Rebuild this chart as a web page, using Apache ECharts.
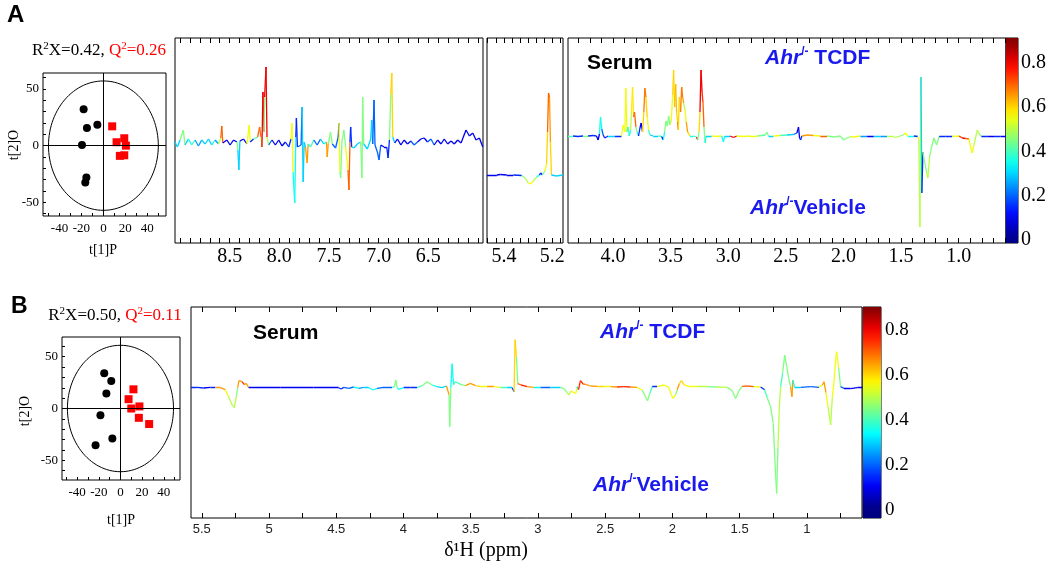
<!DOCTYPE html>
<html><head><meta charset="utf-8">
<script src="https://cdn.jsdelivr.net/npm/echarts@6/dist/echarts.min.js"></script>
<style>html,body{margin:0;padding:0;background:#fff}#c{width:1050px;height:565px}</style>
</head><body><div id="c"></div>
<script>
// ---------------- DATA ----------------
// OPLS-DA scores [t1P, t2O]
const scoreA_vehicle = [[-18,32],[-15,15.5],[-5.5,18.5],[-19.5,0.5],[-15.5,-28],[-16.5,-32.5]];
const scoreA_tcdf    = [[8,17],[12,3],[19,6.5],[20.5,0],[15,-9],[19,-8.5]];
const scoreB_vehicle = [[-15,34],[-8.5,26.5],[-13,14.5],[-18.5,-6.5],[-7.5,-29],[-23,-35.5]];
const scoreB_tcdf    = [[12,18.5],[7.5,9],[10,0],[17.5,2],[17,-9],[26.5,-15]];
// Hotelling ellipse [cx, cy, rx, ry]
const ellipseA = [0,0,50,57];
const ellipseB = [0,0,49,61];
// Loadings spectra [ppm, covariance (scaled), |r|]
const specA1 = [
[9.050,0.00,0.3],[9.026,-0.05,0.3],[8.999,0.02,0.2],[8.966,0.12,0.45],[8.949,-0.03,0.3],[8.915,0.03,0.35],
[8.882,-0.03,0.4],[8.848,0.02,0.3],[8.814,-0.04,0.25],[8.781,0.02,0.3],[8.747,-0.02,0.45],[8.713,0.03,0.3],
[8.680,-0.03,0.35],[8.646,0.02,0.25],[8.612,-0.02,0.3],[8.589,0.04,0.5],[8.579,0.16,0.7],[8.569,-0.01,0.4],
[8.528,0.02,0.1],[8.495,-0.03,0.1],[8.461,0.02,0.1],[8.427,0.00,0.15],[8.417,-0.08,0.45],[8.407,-0.28,0.3],
[8.397,0.01,0.1],[8.360,0.03,0.1],[8.326,-0.02,0.1],[8.303,0.17,0.55],[8.293,0.00,0.3],[8.259,0.03,0.15],
[8.218,0.05,0.4],[8.198,0.15,0.7],[8.185,0.05,0.5],[8.175,-0.05,0.55],[8.165,0.50,0.8],[8.155,0.10,0.6],
[8.148,0.45,0.45],[8.134,0.75,0.8],[8.124,0.05,0.5],[8.107,-0.03,0.2],[8.074,0.02,0.1],[8.040,-0.03,0.1],
[8.006,0.02,0.1],[7.973,-0.04,0.1],[7.939,0.00,0.1],[7.905,-0.05,0.15],[7.882,0.03,0.3],[7.872,0.19,0.55],
[7.862,-0.30,0.55],[7.845,-0.61,0.35],[7.834,0.05,0.2],[7.828,0.24,0.15],[7.818,-0.05,0.2],[7.781,-0.03,0.4],
[7.771,0.35,0.2],[7.760,-0.40,0.3],[7.750,0.00,0.3],[7.737,-0.05,0.3],[7.720,-0.21,0.65],[7.710,-0.02,0.4],
[7.686,-0.05,0.4],[7.653,0.02,0.2],[7.619,-0.03,0.2],[7.585,0.03,0.3],[7.552,-0.02,0.35],[7.525,0.00,0.35],
[7.518,-0.15,0.65],[7.508,-0.02,0.3],[7.484,0.10,0.45],[7.467,-0.02,0.3],[7.434,-0.06,0.2],[7.407,0.05,0.2],
[7.400,0.19,0.15],[7.390,-0.30,0.55],[7.383,-0.36,0.45],[7.370,0.00,0.3],[7.350,0.12,0.45],[7.333,-0.05,0.3],
[7.309,-0.28,0.55],[7.299,-0.48,0.7],[7.289,0.00,0.3],[7.282,0.15,0.15],[7.272,-0.05,0.25],[7.249,-0.06,0.3],
[7.215,-0.02,0.3],[7.181,0.00,0.4],[7.168,-0.36,0.45],[7.161,0.45,0.45],[7.151,-0.02,0.35],[7.114,-0.07,0.3],
[7.080,0.03,0.35],[7.070,0.22,0.3],[7.060,-0.02,0.3],[7.047,0.42,0.2],[7.037,-0.03,0.2],[7.013,-0.10,0.2],
[6.996,-0.18,0.2],[6.979,-0.03,0.15],[6.946,-0.05,0.1],[6.919,-0.05,0.15],[6.905,-0.16,0.15],[6.892,0.02,0.2],
[6.878,0.48,0.45],[6.868,0.69,0.6],[6.858,0.05,0.3],[6.838,-0.01,0.15],[6.811,0.03,0.1],[6.777,-0.03,0.1],
[6.744,0.02,0.1],[6.710,-0.02,0.1],[6.676,0.01,0.1],[6.643,-0.03,0.2],[6.609,0.00,0.1],[6.575,0.03,0.1],
[6.542,0.04,0.1],[6.508,0.00,0.1],[6.474,0.03,0.2],[6.441,-0.03,0.1],[6.407,0.02,0.1],[6.373,-0.02,0.2],
[6.340,0.03,0.1],[6.306,-0.02,0.1],[6.272,0.01,0.1],[6.239,-0.02,0.1],[6.205,0.02,0.1],[6.171,-0.01,0.1],
[6.121,0.12,0.1],[6.087,0.06,0.1],[6.053,0.09,0.1],[6.020,0.02,0.1],[5.986,0.04,0.1],[5.952,-0.05,0.1]
];
const specA2 = [
[5.470,-0.33,0.1],[5.429,-0.33,0.1],[5.415,-0.325,0.1],[5.388,-0.33,0.1],[5.361,-0.33,0.1],[5.326,-0.335,0.15],
[5.312,-0.36,0.45],[5.299,-0.41,0.5],[5.289,-0.42,0.55],[5.278,-0.39,0.5],[5.264,-0.35,0.35],[5.253,-0.33,0.15],
[5.247,-0.31,0.15],[5.240,-0.33,0.15],[5.230,-0.29,0.45],[5.223,-0.22,0.55],[5.219,0.10,0.6],[5.215,0.49,0.7],
[5.211,0.45,0.65],[5.207,0.00,0.6],[5.203,-0.33,0.3],[5.182,-0.34,0.3],[5.155,-0.33,0.3]
];
const specA3 = [
[4.390,0.06,0.4],[4.346,0.06,0.55],[4.303,0.055,0.15],[4.259,0.06,0.45],[4.216,0.06,0.6],[4.172,0.065,0.15],
[4.143,0.06,0.2],[4.129,0.02,0.1],[4.117,0.08,0.15],[4.108,0.25,0.35],[4.097,0.13,0.2],[4.085,0.07,0.1],
[4.071,0.04,0.15],[4.042,0.06,0.3],[3.984,0.06,0.15],[3.926,0.06,0.3],[3.911,0.17,0.55],[3.897,0.10,0.4],
[3.888,0.54,0.55],[3.879,0.10,0.35],[3.868,0.15,0.4],[3.859,0.06,0.15],[3.847,0.12,0.35],[3.839,0.30,0.5],
[3.830,0.55,0.58],[3.821,0.25,0.65],[3.813,0.30,0.7],[3.801,0.15,0.45],[3.790,0.10,0.35],[3.778,0.06,0.1],
[3.766,0.14,0.15],[3.755,0.19,0.1],[3.743,0.10,0.3],[3.732,0.30,0.6],[3.723,0.54,0.68],[3.714,0.45,0.6],
[3.703,0.25,0.55],[3.691,0.12,0.4],[3.679,0.07,0.3],[3.650,0.06,0.3],[3.607,0.06,0.35],[3.578,0.055,0.4],
[3.563,0.02,0.1],[3.552,0.10,0.35],[3.540,0.21,0.45],[3.529,0.16,0.45],[3.517,0.26,0.45],[3.506,0.17,0.5],
[3.494,0.22,0.5],[3.482,0.47,0.55],[3.474,0.72,0.6],[3.465,0.35,0.55],[3.456,0.58,0.62],[3.448,0.30,0.6],
[3.439,0.20,0.7],[3.433,0.12,0.8],[3.424,0.45,0.6],[3.413,0.30,0.55],[3.404,0.55,0.68],[3.395,0.45,0.65],
[3.387,0.39,0.5],[3.375,0.32,0.55],[3.364,0.20,0.65],[3.352,0.10,0.6],[3.332,0.06,0.35],[3.303,0.06,0.3],
[3.274,0.05,0.4],[3.265,0.02,0.8],[3.253,0.10,0.45],[3.245,0.30,0.6],[3.236,0.72,0.8],[3.227,0.50,0.75],
[3.219,0.40,0.7],[3.210,0.15,0.45],[3.201,-0.01,0.35],[3.192,0.06,0.3],[3.143,0.06,0.3],[3.100,0.055,0.55],
[3.056,0.06,0.3],[3.042,0.00,0.35],[3.030,0.06,0.3],[2.984,0.06,0.3],[2.955,0.045,0.8],[2.926,0.06,0.5],
[2.868,0.055,0.55],[2.810,0.06,0.55],[2.752,0.06,0.3],[2.708,0.065,0.45],[2.679,0.07,0.4],[2.665,0.10,0.45],
[2.650,0.06,0.3],[2.607,0.06,0.35],[2.549,0.065,0.55],[2.491,0.07,0.4],[2.433,0.075,0.3],[2.404,0.09,0.2],
[2.390,0.15,0.1],[2.381,0.04,0.2],[2.372,0.02,0.15],[2.361,0.06,0.2],[2.317,0.07,0.65],[2.259,0.065,0.55],
[2.201,0.06,0.7],[2.143,0.06,0.4],[2.085,0.05,0.45],[2.027,0.06,0.4],[1.998,0.02,0.45],[1.969,0.04,0.45],
[1.940,0.055,0.4],[1.911,0.05,0.55],[1.853,0.06,0.25],[1.795,0.06,0.1],[1.737,0.06,0.3],[1.679,0.06,0.25],
[1.621,0.06,0.5],[1.578,0.06,0.8],[1.549,0.045,0.5],[1.505,0.06,0.4],[1.476,0.075,0.45],[1.462,0.09,0.55],
[1.442,0.06,0.35],[1.389,0.06,0.3],[1.355,0.055,0.15],[1.346,0.02,0.55],[1.337,-0.85,0.5],[1.328,0.65,0.3],
[1.320,-0.51,0.15],[1.311,-0.10,0.45],[1.294,-0.21,0.45],[1.279,-0.30,0.45],[1.268,-0.36,0.5],[1.253,-0.15,0.45],
[1.236,-0.05,0.45],[1.215,0.04,0.35],[1.192,-0.03,0.45],[1.169,0.06,0.15],[1.114,0.06,0.15],[1.056,0.06,0.2],
[1.027,0.055,0.55],[0.998,0.06,0.45],[0.969,0.04,0.75],[0.940,0.035,0.8],[0.911,0.03,0.7],[0.897,-0.05,0.55],
[0.882,-0.11,0.55],[0.868,-0.03,0.5],[0.853,0.05,0.45],[0.839,0.12,0.5],[0.824,0.08,0.45],[0.804,0.06,0.15],
[0.752,0.06,0.1],[0.694,0.06,0.15],[0.636,0.06,0.1],[0.592,0.06,0.1]
];
const specB = [
[5.580,0.0,0.1],[5.536,0.003,0.15],[5.486,-0.003,0.1],[5.436,0.003,0.15],[5.399,0.0,0.65],[5.362,0.0,0.6],
[5.325,-0.02,0.65],[5.300,-0.09,0.55],[5.275,-0.17,0.5],[5.258,-0.20,0.5],[5.243,-0.09,0.45],[5.233,0.0,0.5],
[5.223,0.07,0.65],[5.201,0.06,0.75],[5.183,0.03,0.6],[5.169,0.043,0.65],[5.151,0.0,0.55],[5.126,0.003,0.1],
[4.916,0.0,0.1],[4.668,0.0,0.1],[4.482,0.0,0.1],[4.464,-0.013,0.15],[4.444,0.003,0.3],[4.407,-0.007,0.2],
[4.370,0.007,0.35],[4.333,-0.007,0.25],[4.296,0.003,0.3],[4.258,0.0,0.2],[4.226,-0.023,0.35],[4.196,-0.007,0.2],
[4.159,0.0,0.15],[4.122,0.003,0.2],[4.085,0.0,0.15],[4.067,0.01,0.4],[4.057,0.077,0.45],[4.047,0.0,0.4],
[4.035,-0.017,0.35],[3.998,0.0,0.2],[3.948,0.003,0.15],[3.899,0.0,0.3],[3.861,0.02,0.4],[3.824,0.06,0.45],
[3.787,0.027,0.35],[3.750,0.01,0.3],[3.713,0.0,0.2],[3.680,0.017,0.3],[3.661,-0.07,0.65],[3.656,-0.39,0.45],
[3.648,0.0,0.3],[3.638,0.24,0.35],[3.628,0.03,0.4],[3.613,0.06,0.4],[3.576,0.033,0.45],[3.539,0.02,0.4],
[3.502,0.043,0.65],[3.465,0.02,0.6],[3.427,0.01,0.55],[3.378,0.01,0.65],[3.328,0.01,0.55],[3.279,0.003,0.4],
[3.229,0.003,0.3],[3.192,0.0,0.15],[3.177,-0.04,0.15],[3.170,0.48,0.6],[3.160,0.31,0.45],[3.150,0.04,0.7],
[3.125,0.027,0.75],[3.080,0.01,0.65],[3.031,0.003,0.35],[2.981,0.003,0.2],[2.907,0.0,0.3],[2.832,0.003,0.3],
[2.807,-0.01,0.45],[2.783,-0.05,0.45],[2.770,-0.073,0.5],[2.753,-0.03,0.5],[2.733,-0.05,0.55],[2.718,-0.057,0.55],
[2.708,0.01,0.15],[2.698,-0.02,0.3],[2.684,0.07,0.75],[2.664,0.037,0.7],[2.646,0.033,0.65],[2.609,0.017,0.65],
[2.560,0.013,0.6],[2.510,0.01,0.55],[2.460,0.01,0.65],[2.411,0.007,0.7],[2.361,0.01,0.75],[2.312,0.007,0.65],
[2.262,0.003,0.6],[2.225,-0.023,0.55],[2.200,-0.09,0.45],[2.185,-0.13,0.45],[2.168,-0.057,0.4],[2.150,0.01,0.15],
[2.113,0.01,0.35],[2.063,0.027,0.55],[2.026,0.003,0.15],[2.009,-0.07,0.55],[1.994,-0.107,0.55],[1.977,-0.07,0.45],
[1.964,-0.02,0.5],[1.949,0.04,0.65],[1.932,0.07,0.6],[1.915,0.03,0.55],[1.878,0.013,0.55],[1.815,0.01,0.5],
[1.741,0.01,0.45],[1.666,0.007,0.5],[1.592,0.003,0.45],[1.555,-0.03,0.45],[1.530,-0.107,0.45],[1.505,-0.03,0.45],
[1.481,0.013,0.6],[1.443,0.017,0.7],[1.394,0.01,0.55],[1.344,0.007,0.35],[1.314,-0.02,0.15],[1.295,-0.10,0.4],
[1.270,-0.19,0.45],[1.250,-0.36,0.45],[1.235,-0.80,0.45],[1.225,-1.057,0.45],[1.215,-0.60,0.5],[1.205,-0.20,0.5],
[1.195,0.01,0.15],[1.180,0.15,0.4],[1.165,0.327,0.45],[1.151,0.22,0.45],[1.136,0.10,0.45],[1.121,0.01,0.15],
[1.111,-0.09,0.65],[1.104,0.077,0.35],[1.091,0.0,0.35],[1.046,0.003,0.3],[0.972,0.01,0.2],[0.910,0.003,0.15],
[0.885,0.027,0.55],[0.873,0.06,0.65],[0.858,-0.05,0.55],[0.843,-0.19,0.55],[0.823,-0.373,0.5],[0.811,-0.10,0.55],
[0.799,0.05,0.55],[0.786,0.27,0.55],[0.779,0.36,0.55],[0.764,0.20,0.45],[0.749,0.01,0.2],[0.724,-0.007,0.1],
[0.675,-0.01,0.1],[0.625,0.0,0.1],[0.588,0.003,0.1]
];
// tick labels
const ticksA1 = [8.5,8.0,7.5,7.0,6.5];
const ticksA2 = [5.4,5.2];
const ticksA3 = [4.0,3.5,3.0,2.5,2.0,1.5,1.0];
const ticksB  = [5.5,5,4.5,4,3.5,3,2.5,2,1.5,1];
const scoreXTicks = [-40,-20,0,20,40];
const scoreYTicks = [50,0,-50];
const cbTicks = [0,0.2,0.4,0.6,0.8];

// ---------------- STYLE / HELPERS ----------------
const SERIF = '"Liberation Serif","Times New Roman",serif';
const SANS = '"Liberation Sans",Arial,sans-serif';
const BLUE = '#1a1aee';
const CMAX = 0.9;
function range(a, b, s){ const o=[]; for(let v=a; v<=b+1e-9; v+=s) o.push(+v.toFixed(4)); return o; }
function jet(v){
  const t = Math.max(0, Math.min(1, v / CMAX));
  const c = x => Math.round(255 * Math.max(0, Math.min(1, x)));
  return 'rgb(' + c(1.5 - Math.abs(4*t-3)) + ',' + c(1.5 - Math.abs(4*t-2)) + ',' + c(1.5 - Math.abs(4*t-1)) + ')';
}
function segs(spec, ref){
  const out = [];
  for (let i = 0; i < spec.length - 1; i++){
    const a = spec[i], b = spec[i+1];
    const r = Math.abs(a[1]-ref) >= Math.abs(b[1]-ref) ? a[2] : b[2];
    out.push({coords: [[a[0],a[1]],[b[0],b[1]]], lineStyle: {color: jet(r)}});
  }
  return out;
}
function cbStops(mn, mx){
  const s = [];
  for (let i = 0; i <= 20; i++){ const o = i/20; s.push({offset: o, color: jet(mn + o*(mx-mn))}); }
  return s;
}

const grids = [
  {left:43, top:73, width:123, height:143},    // 0 scores A
  {left:175, top:38, width:308, height:205},   // 1 A1
  {left:487, top:38, width:76, height:205},    // 2 A2
  {left:568, top:38, width:438, height:205},   // 3 A3
  {left:1006, top:38, width:12, height:205},   // 4 colorbar A
  {left:62, top:337, width:118, height:143},   // 5 scores B
  {left:191, top:307, width:671, height:211},  // 6 B
  {left:863, top:307, width:18, height:211}    // 7 colorbar B
].map(g => Object.assign({show:true, borderColor:'#000', borderWidth:1, backgroundColor:'transparent'}, g));

const NOLINE = {show:false, onZero:false};
const xAxes = [], yAxes = [];
function specX(grid, min, max, labels, ticks, fmt, lbl){
  const base = {gridIndex:grid, type:'value', inverse:true, min, max, axisLine:NOLINE, splitLine:{show:false}};
  xAxes.push(Object.assign({}, base, {position:'bottom',
    axisTick:{show:true, inside:true, length:5, customValues:ticks, lineStyle:{color:'#000'}},
    axisLabel:Object.assign({customValues:labels, formatter:fmt, color:'#000'}, lbl)}));
  xAxes.push(Object.assign({}, base, {position:'top',
    axisTick:{show:true, inside:true, length:5, customValues:ticks, lineStyle:{color:'#000'}},
    axisLabel:{show:false}}));
  return xAxes.length - 2;
}
function plainY(grid, min, max){ yAxes.push({gridIndex:grid, type:'value', min, max, show:false, axisLine:NOLINE}); return yAxes.length-1; }

// scores axes
function scoreAxes(grid, xmin, xmax, ymin, ymax){
  xAxes.push({gridIndex:grid, type:'value', position:'bottom', min:xmin, max:xmax, axisLine:NOLINE, splitLine:{show:false},
    axisTick:{inside:true, length:3, customValues:range(-50,50,10), lineStyle:{color:'#000'}},
    axisLabel:{customValues:scoreXTicks, color:'#000', fontFamily:SERIF, fontSize:13, margin:6}});
  yAxes.push({gridIndex:grid, type:'value', position:'left', min:ymin, max:ymax, axisLine:NOLINE, splitLine:{show:false},
    axisTick:{inside:true, length:3, customValues:range(-60,60,10), lineStyle:{color:'#000'}},
    axisLabel:{customValues:scoreYTicks, color:'#000', fontFamily:SERIF, fontSize:13, margin:4}});
  return [xAxes.length-1, yAxes.length-1];
}
function cbAxes(grid, mn, mx, fs, margin){
  xAxes.push({gridIndex:grid, type:'value', min:0, max:1, show:false, axisLine:NOLINE});
  const tk = {show:true, inside:true, length:3, customValues:range(0,0.9,0.1), lineStyle:{color:'#000'}};
  yAxes.push({gridIndex:grid, type:'value', position:'left', min:mn, max:mx, axisLine:NOLINE, splitLine:{show:false}, axisTick:tk, axisLabel:{show:false}});
  yAxes.push({gridIndex:grid, type:'value', position:'right', min:mn, max:mx, axisLine:NOLINE, splitLine:{show:false}, axisTick:tk,
    axisLabel:{customValues:cbTicks, formatter:v => v === 0 ? '0' : v.toFixed(1), color:'#000', fontFamily:SERIF, fontSize:fs, margin:margin}});
  return [xAxes.length-1, yAxes.length-2];
}

const fmtA = v => v.toFixed(1);
const fmtB = v => String(v);
const lblA = {fontFamily:SERIF, fontSize:20, margin:4};
const lblB = {fontFamily:SANS, fontSize:13, margin:5, color:'#222'};

const [sAx, sAy] = scoreAxes(0, -55, 57, -62, 64);
const a1x = specX(1, 5.95, 9.05, ticksA1, range(6.0,9.0,0.1), fmtA, lblA); const a1y = plainY(1, -1.01, 1.04);
const a2x = specX(2, 5.155, 5.47, ticksA2, [5.167,5.2,5.233,5.267,5.3,5.333,5.367,5.4,5.433,5.467], fmtA, lblA); const a2y = plainY(2, -1.01, 1.04);
const a3x = specX(3, 0.59, 4.39, ticksA3, range(0.6,4.3,0.1), fmtA, lblA); const a3y = plainY(3, -1.01, 1.04);
const [cAx, cAy] = cbAxes(4, -0.013, 0.91, 20, 3);
const [sBx, sBy] = scoreAxes(5, -54, 55, -69, 69);
const bx = specX(6, 0.59, 5.58, ticksB, range(0.75,5.5,0.25), fmtB, lblB); const by = plainY(6, -1.303, 0.807);
const [cBx, cBy] = cbAxes(7, -0.037, 0.9, 19, 4);

function scoreSeries(xi, yi, veh, tcdf, ell){
  return [
    {type:'custom', xAxisIndex:xi, yAxisIndex:yi, silent:true, data:[ell], renderItem:(p, api) => {
      const cx=api.value(0), cy=api.value(1), rx=api.value(2), ry=api.value(3), pts=[];
      for (let k=0;k<=120;k++){ const a=k/120*2*Math.PI; pts.push(api.coord([cx+rx*Math.cos(a), cy+ry*Math.sin(a)])); }
      return {type:'polyline', shape:{points:pts}, style:{stroke:'#000', fill:null, lineWidth:1}};
    }},
    {type:'scatter', xAxisIndex:xi, yAxisIndex:yi, data:veh, symbol:'circle', symbolSize:8, itemStyle:{color:'#000', opacity:1},
      markLine:{silent:true, symbol:'none', label:{show:false}, lineStyle:{color:'#000', type:'solid', width:1, opacity:1},
        data:[{xAxis:0},{yAxis:0}]}},
    {type:'scatter', xAxisIndex:xi, yAxisIndex:yi, data:tcdf, symbol:'rect', symbolSize:8, itemStyle:{color:'#ff0000', opacity:1}}
  ];
}
function specSeries(xi, yi, spec, ref){
  return {type:'lines', coordinateSystem:'cartesian2d', xAxisIndex:xi, yAxisIndex:yi, polyline:false, silent:true,
    lineStyle:{width:1.3, opacity:1}, data:segs(spec, ref)};
}
function cbSeries(xi, yi, mn, mx){
  return {type:'custom', xAxisIndex:xi, yAxisIndex:yi, silent:true, data:[[mn, mx]], renderItem:(p, api) => {
    const cs = p.coordSys;
    const y1 = api.coord([0, api.value(1)])[1], y0 = api.coord([0, api.value(0)])[1];
    return {type:'rect', shape:{x:cs.x, y:y1, width:cs.width, height:y0-y1},
      style:{fill:new echarts.graphic.LinearGradient(0,1,0,0, cbStops(mn, mx))}};
  }};
}

const series = [].concat(
  scoreSeries(sAx, sAy, scoreA_vehicle, scoreA_tcdf, ellipseA),
  [specSeries(a1x, a1y, specA1, 0), specSeries(a2x, a2y, specA2, -0.33), specSeries(a3x, a3y, specA3, 0.06)],
  [cbSeries(cAx, cAy, -0.013, 0.91)],
  scoreSeries(sBx, sBy, scoreB_vehicle, scoreB_tcdf, ellipseB),
  [specSeries(bx, by, specB, 0)],
  [cbSeries(cBx, cBy, -0.037, 0.9)]
);

const titleRich = {
  n:{fontFamily:SERIF, fontSize:17, fill:'#000', lineHeight:20},
  s:{fontFamily:SERIF, fontSize:11, fill:'#000', verticalAlign:'top', lineHeight:20},
  r:{fontFamily:SERIF, fontSize:17, fill:'#ff0000', lineHeight:20},
  rs:{fontFamily:SERIF, fontSize:11, fill:'#ff0000', verticalAlign:'top', lineHeight:20}
};
const ahrRich = {
  i:{fontFamily:SANS, fontSize:21, fontWeight:'bold', fontStyle:'italic', fill:BLUE, lineHeight:24},
  s:{fontFamily:SANS, fontSize:12, fontWeight:'bold', fill:BLUE, verticalAlign:'top', lineHeight:24},
  b:{fontFamily:SANS, fontSize:21, fontWeight:'bold', fill:BLUE, lineHeight:24}
};
function txt(x, y, text, font, extra){
  return {type:'text', x, y, silent:true, style:Object.assign({text, font, fill:'#000', verticalAlign:'middle', align:'left'}, extra||{})};
}
const graphic = [
  txt(7, 15, 'A', 'bold 24px ' + SANS),
  txt(11, 307, 'B', 'bold 23px ' + SANS),
  {type:'text', x:99, y:51, silent:true, style:{text:'{n|R}{s|2}{n|X=0.42, }{r|Q}{rs|2}{r|=0.26}', rich:titleRich, align:'center', verticalAlign:'middle'}},
  {type:'text', x:115, y:316, silent:true, style:{text:'{n|R}{s|2}{n|X=0.50, }{r|Q}{rs|2}{r|=0.11}', rich:titleRich, align:'center', verticalAlign:'middle'}},
  {type:'text', x:14, y:145, rotation:Math.PI/2, silent:true, style:{text:'t[2]O', font:'14px ' + SERIF, fill:'#000', align:'center', verticalAlign:'middle'}},
  {type:'text', x:25, y:411, rotation:Math.PI/2, silent:true, style:{text:'t[2]O', font:'14px ' + SERIF, fill:'#000', align:'center', verticalAlign:'middle'}},
  txt(103, 250, 't[1]P', '14px ' + SERIF, {align:'center'}),
  txt(121, 520, 't[1]P', '14px ' + SERIF, {align:'center'}),
  txt(587, 63, 'Serum', 'bold 21px ' + SANS),
  txt(253, 333, 'Serum', 'bold 21px ' + SANS),
  {type:'text', x:765, y:58, silent:true, style:{text:'{i|Ahr}{s|/-}{b| TCDF}', rich:ahrRich, verticalAlign:'middle'}},
  {type:'text', x:750, y:208, silent:true, style:{text:'{i|Ahr}{s|/-}{b|Vehicle}', rich:ahrRich, verticalAlign:'middle'}},
  {type:'text', x:600, y:332, silent:true, style:{text:'{i|Ahr}{s|/-}{b| TCDF}', rich:ahrRich, verticalAlign:'middle'}},
  {type:'text', x:593, y:485, silent:true, style:{text:'{i|Ahr}{s|/-}{b|Vehicle}', rich:ahrRich, verticalAlign:'middle'}},
  txt(486, 551, 'δ¹H (ppm)', '20px ' + SERIF, {align:'center'})
];

const chart = echarts.init(document.getElementById('c'), null, {renderer:'canvas'});
chart.setOption({animation:false, backgroundColor:'#fff', grid:grids, xAxis:xAxes, yAxis:yAxes, series, graphic});
</script></body></html>
